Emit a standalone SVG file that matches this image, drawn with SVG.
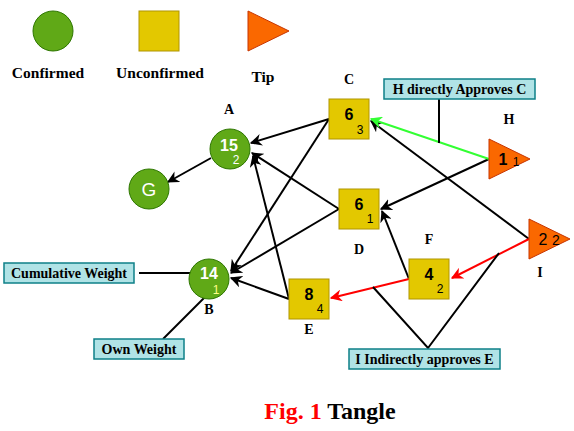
<svg xmlns="http://www.w3.org/2000/svg" width="574" height="431" viewBox="0 0 574 431">
<style>
.g{fill:#60a917;stroke:#2d7600;stroke-width:1}
.y{fill:#e3c800;stroke:#b09500;stroke-width:1}
.o{fill:#fa6800;stroke:#c73500;stroke-width:1}
.cb{fill:#b0e3e6;stroke:#0e8088;stroke-width:1.5}
.lbl{font-family:"Liberation Serif",serif;font-weight:bold;font-size:14px;fill:#000;text-anchor:middle}
.leg{font-family:"Liberation Serif",serif;font-weight:bold;font-size:15.5px;fill:#000;text-anchor:middle}
.cbt{font-family:"Liberation Serif",serif;font-weight:bold;font-size:14px;fill:#000;text-anchor:middle}
.big{font-family:"Liberation Sans",Arial,sans-serif;font-weight:bold;font-size:16px;text-anchor:middle}
.sm{font-family:"Liberation Sans",Arial,sans-serif;font-size:12px;text-anchor:middle}
.e{stroke:#000;stroke-width:2;fill:none}
</style>
<defs>
<marker id="ak" viewBox="0 0 10 10" refX="9" refY="5" markerWidth="6" markerHeight="6" orient="auto" markerUnits="strokeWidth"><path d="M0,0 L10,5 L0,10 L3,5 Z" fill="#000"/></marker>
<marker id="ar" viewBox="0 0 10 10" refX="9" refY="5" markerWidth="6" markerHeight="6" orient="auto" markerUnits="strokeWidth"><path d="M0,0 L10,5 L0,10 L3,5 Z" fill="#ff0000"/></marker>
<marker id="ag" viewBox="0 0 10 10" refX="9" refY="5" markerWidth="6" markerHeight="6" orient="auto" markerUnits="strokeWidth"><path d="M0,0 L10,5 L0,10 L3,5 Z" fill="#33ff33"/></marker>
</defs>
<rect width="574" height="431" fill="#fff"/>
<g id="legend">
<circle class="g" cx="53" cy="31" r="20"/>
<rect class="y" x="139" y="11" width="40" height="40"/>
<polygon class="o" points="248,11 248,51 289,31"/>
<text class="leg" x="48" y="78">Confirmed</text>
<text class="leg" x="160" y="78">Unconfirmed</text>
<text class="leg" x="263" y="82">Tip</text>
</g>
<g id="connectors">
<line class="e" x1="211" y1="158" x2="168" y2="182" marker-end="url(#ak)"/>
<line class="e" x1="329" y1="119" x2="251" y2="143" marker-end="url(#ak)"/>
<line class="e" x1="329" y1="119" x2="231" y2="271" marker-end="url(#ak)"/>
<line class="e" x1="339" y1="209" x2="252" y2="153" marker-end="url(#ak)"/>
<line class="e" x1="339" y1="209" x2="231" y2="273" marker-end="url(#ak)"/>
<line class="e" x1="289" y1="299" x2="253" y2="156" marker-end="url(#ak)"/>
<line class="e" x1="289" y1="299" x2="231" y2="278" marker-end="url(#ak)"/>
<line class="e" x1="409" y1="279" x2="382" y2="211" marker-end="url(#ak)"/>
<line class="e" x1="489" y1="159" x2="381" y2="209" marker-end="url(#ak)"/>
<line class="e" x1="529" y1="239" x2="371" y2="121" marker-end="url(#ak)"/>
<line x1="489" y1="159" x2="371" y2="119" stroke="#33ff33" stroke-width="2" marker-end="url(#ag)"/>
<line x1="529" y1="239" x2="452" y2="278" stroke="#ff0000" stroke-width="2" marker-end="url(#ar)"/>
<line x1="409" y1="279" x2="331" y2="298" stroke="#ff0000" stroke-width="2" marker-end="url(#ar)"/>
<line class="e" x1="439" y1="99" x2="439" y2="143"/>
<line class="e" x1="139" y1="273" x2="199" y2="273"/>
<line class="e" x1="163" y1="339" x2="213" y2="289"/>
<polyline class="e" points="373,287 428,348 499,253"/>
</g>
<g id="A">
<circle class="g" cx="230" cy="149" r="20"/>
<text class="big" x="229" y="151" fill="#fff">15</text>
<text class="sm" x="236" y="164" fill="#fff">2</text>
<text class="lbl" x="229" y="114">A</text>
</g>
<g id="G">
<circle class="g" cx="149" cy="189" r="20"/>
<text x="149" y="196" font-family="Liberation Sans,Arial,sans-serif" font-size="19" fill="#fff" text-anchor="middle">G</text>
</g>
<g id="B">
<circle class="g" cx="209" cy="279" r="20"/>
<text class="big" x="209" y="279" fill="#fff">14</text>
<text class="sm" x="216" y="294" fill="#ffff88">1</text>
<text class="lbl" x="209" y="314">B</text>
</g>
<g id="C">
<rect class="y" x="329" y="99" width="40" height="40"/>
<text class="big" x="349" y="120" fill="#000">6</text>
<text class="sm" x="360" y="134" fill="#000">3</text>
<text class="lbl" x="349" y="84">C</text>
</g>
<g id="D">
<rect class="y" x="339" y="189" width="40" height="40"/>
<text class="big" x="359" y="210" fill="#000">6</text>
<text class="sm" x="370" y="223" fill="#000">1</text>
<text class="lbl" x="359" y="254">D</text>
</g>
<g id="E">
<rect class="y" x="289" y="279" width="40" height="40"/>
<text class="big" x="309" y="300" fill="#000">8</text>
<text class="sm" x="320" y="313" fill="#000">4</text>
<text class="lbl" x="309" y="334">E</text>
</g>
<g id="F">
<rect class="y" x="409" y="259" width="40" height="40"/>
<text class="big" x="429" y="280" fill="#000">4</text>
<text class="sm" x="440" y="293" fill="#000">2</text>
<text class="lbl" x="429" y="244">F</text>
</g>
<g id="H">
<polygon class="o" points="489,139 489,179 530,159"/>
<text class="big" x="503" y="165" fill="#000">1</text>
<text class="sm" x="516" y="166" fill="#000">1</text>
<text class="lbl" x="509" y="124">H</text>
</g>
<g id="I">
<polygon class="o" points="529,219 529,259 570,239"/>
<text x="543" y="245" font-family="Liberation Sans,Arial,sans-serif" font-size="16" fill="#000" text-anchor="middle">2</text>
<text x="556" y="245" font-family="Liberation Sans,Arial,sans-serif" font-size="14" fill="#000" text-anchor="middle">2</text>
<text class="lbl" x="540" y="277">I</text>
</g>
<g id="callout-H">
<rect class="cb" x="384" y="79" width="151" height="20"/>
<text class="cbt" x="459.5" y="94">H directly Approves C</text>
</g>
<g id="callout-cw">
<rect class="cb" x="4" y="263" width="130" height="20"/>
<text class="cbt" x="69" y="278">Cumulative Weight</text>
</g>
<g id="callout-ow">
<rect class="cb" x="94" y="339" width="90" height="20"/>
<text class="cbt" x="139" y="354">Own Weight</text>
</g>
<g id="callout-I">
<rect class="cb" x="349" y="349" width="151" height="20"/>
<text class="cbt" x="424.5" y="364">I Indirectly approves E</text>
</g>
<g id="caption">
<text x="330" y="419" font-family="Liberation Serif,serif" font-weight="bold" font-size="24" text-anchor="middle"><tspan fill="#ff0000">Fig. 1</tspan><tspan fill="#000"> Tangle</tspan></text>
</g>
</svg>
